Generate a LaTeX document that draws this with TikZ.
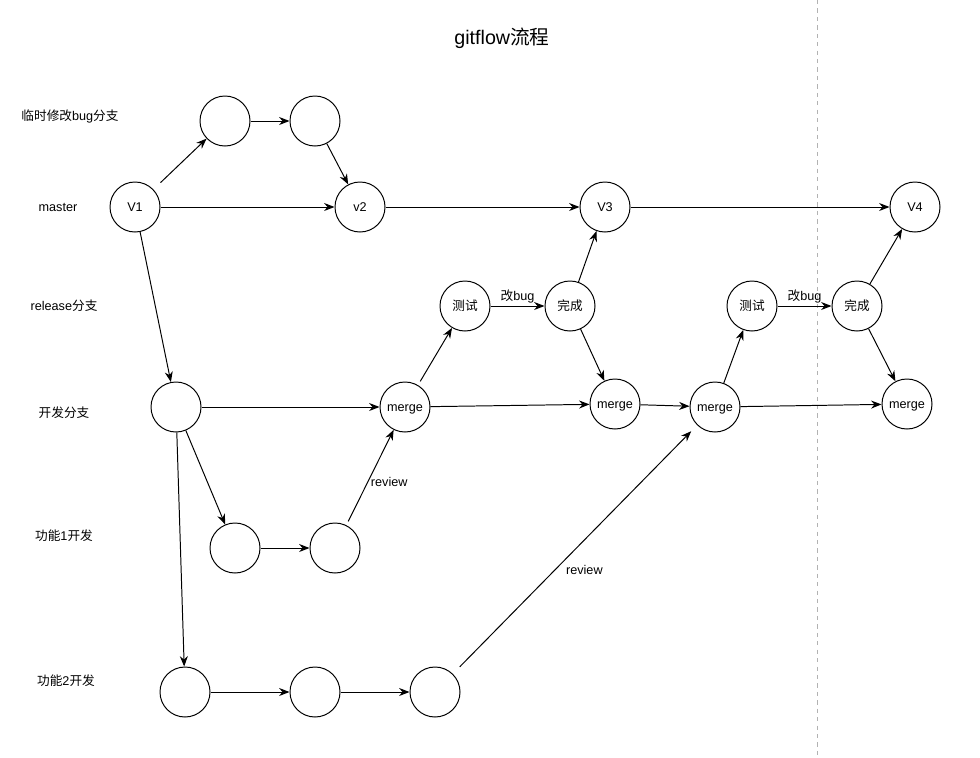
\documentclass[tikz,border=0pt]{standalone}
\usepackage{fontspec}
\setmainfont{Liberation Sans}
\newfontfamily\cjk{Noto Sans CJK SC}
\usetikzlibrary{arrows.meta}
\tikzset{
  commit/.style={draw, circle, line width=0.7pt, minimum size=1.25cm, inner sep=0pt,
      text height=1.55ex, text depth=0.35ex, font=\fontsize{9}{10}\selectfont},
  flow/.style={-{Stealth[length=2.6mm, width=2mm]}, line width=0.7pt},
  lane/.style={font=\fontsize{9}{10}\selectfont},
  edgetext/.style={font=\fontsize{9}{10}\selectfont, inner sep=2pt},
  divider/.style={gray!60, dashed, line width=0.5pt},
}

\begin{document}
\begin{tikzpicture}[x=0.025cm, y=-0.025cm]
  \useasboundingbox (0,0) rectangle (980,757);
  \draw[divider] (817,0) -- (817,757);
  \node[font=\fontsize{14}{16}\selectfont] (title) at (502,38) {gitflow{\cjk 流程}};
  % lane labels
  \node[lane] (lhotfix) at (70,116) {{\cjk 临时修改}bug{\cjk 分支}};
  \node[lane] (lmaster) at (58,207) {master};
  \node[lane] (lrelease) at (64,306) {release{\cjk 分支}};
  \node[lane] (ldevelop) at (64,413) {\cjk 开发分支};
  \node[lane] (lfeat1) at (64,536) {{\cjk 功能}1{\cjk 开发}};
  \node[lane] (lfeat2) at (66,681) {{\cjk 功能}2{\cjk 开发}};
  % hotfix
  \node[commit] (hfa) at (225,121) {};
  \node[commit] (hfb) at (315,121) {};
  % master
  \node[commit] (V1) at (135,207) {V1};
  \node[commit] (V2) at (360,207) {v2};
  \node[commit] (V3) at (605,207) {V3};
  \node[commit] (V4) at (915,207) {V4};
  % release
  \node[commit] (testa) at (465,306) {\cjk 测试};
  \node[commit] (donea) at (570,306) {\cjk 完成};
  \node[commit] (testb) at (752,306) {\cjk 测试};
  \node[commit] (doneb) at (857,306) {\cjk 完成};
  % develop
  \node[commit] (dev) at (176,407) {};
  \node[commit] (mga) at (405,407) {merge};
  \node[commit] (mgb) at (615,404) {merge};
  \node[commit] (mgc) at (715,407) {merge};
  \node[commit] (mgd) at (907,404) {merge};
  % features
  \node[commit] (fa1) at (235,548) {};
  \node[commit] (fa2) at (335,548) {};
  \node[commit] (fb1) at (185,692) {};
  \node[commit] (fb2) at (315,692) {};
  \node[commit] (fb3) at (435,692) {};

  \draw[flow, shorten <=10\pgflinewidth] (V1) -- (hfa);
  \draw[flow] (hfa) -- (hfb);
  \draw[flow] (hfb) -- (V2);
  \draw[flow] (V1) -- (V2);
  \draw[flow] (V2) -- (V3);
  \draw[flow] (V3) -- (V4);
  \draw[flow] (V1) -- (dev);
  \draw[flow] (dev) -- (mga);
  \draw[flow] (dev) -- (fa1);
  \draw[flow] (dev) -- (fb1);
  \draw[flow] (fa1) -- (fa2);
  \draw[flow, shorten <=3pt] (fa2) -- node[edgetext, right, pos=0.45] {review} (mga);
  \draw[flow, shorten <=3pt] (mga) -- (testa);
  \draw[flow] (testa) -- node[edgetext, above] {{\cjk 改}bug} (donea);
  \draw[flow] (donea) -- (V3);
  \draw[flow] (donea) -- (mgb);
  \draw[flow] (mga) -- (mgb);
  \draw[flow] (mgb) -- (mgc);
  \draw[flow] (fb1) -- (fb2);
  \draw[flow] (fb2) -- (fb3);
  \draw[flow, shorten <=7pt, shorten >=6pt] (fb3) -- node[edgetext, below right, pos=0.45] {review} (mgc);
  \draw[flow] (mgc) -- (testb);
  \draw[flow] (testb) -- node[edgetext, above] {{\cjk 改}bug} (doneb);
  \draw[flow] (doneb) -- (V4);
  \draw[flow] (doneb) -- (mgd);
  \draw[flow] (mgc) -- (mgd);
\end{tikzpicture}
\end{document}
